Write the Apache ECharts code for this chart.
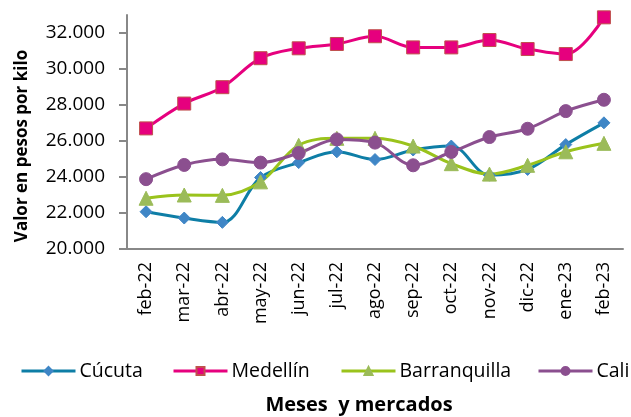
<!DOCTYPE html>
<html><head><meta charset="utf-8">
<script src="https://cdn.jsdelivr.net/npm/echarts@6/dist/echarts.min.js"></script>
<style>html,body{margin:0;padding:0;background:#fff}#c{width:631px;height:417px}</style>
</head><body><div id="c"></div>
<script>
const categories = ['feb-22','mar-22','abr-22','may-22','jun-22','jul-22','ago-22','sep-22','oct-22','nov-22','dic-22','ene-23','feb-23'];
const cucuta = [22070,21720,21480,23970,24800,25400,24970,25500,25720,24100,24420,25800,27010];
const medellin = [26700,28080,28990,30600,31150,31390,31820,31200,31200,31610,31110,30830,32870];
const barranquilla = [22820,23000,22980,23730,25760,26150,26150,25720,24740,24160,24650,25400,25870];
const cali = [23880,24670,24980,24800,25330,26090,25910,24650,25390,26220,26680,27660,28290];
const yTicks = {min:20000, max:33000, interval:2000};
const seriesNames = ['Cúcuta','Medellín','Barranquilla','Cali'];

const FONT = 'Open Sans';
const fmt = v => String(v).replace(/\B(?=(\d{3})+(?!\d))/g, '.');
const chart = echarts.init(document.getElementById('c'), null, {renderer:'canvas'});

function mk(name, data, lineColor, sym, symColor, borderColor, size) {
  return {
    name, type:'line', data, smooth:0.35, symbol:sym, symbolSize:size,
    lineStyle:{color:lineColor, width:3},
    itemStyle:{color:symColor, borderColor:borderColor, borderWidth:1},
    emphasis:{disabled:true}, clip:false, z: 2
  };
}
const legendLefts = [20, 172, 340, 537];
const legends = seriesNames.map((n, i) => ({
  left: legendLefts[i], top: 361, padding: 0, itemWidth: 54, itemHeight: 10,
  lineStyle: {width: 3}, selectedMode: false,
  textStyle: {fontFamily: FONT, fontSize: 19.5, color: '#000', padding: [0, 0, 0, -1]},
  data: [n]
}));

chart.setOption({
  animation:false,
  textStyle:{fontFamily:FONT},
  grid:{left:127, right:8, top:15, bottom:168, containLabel:false},
  legend: legends,
  xAxis:{
    type:'category', data:categories, boundaryGap:true,
    axisLine:{lineStyle:{color:'#888', width:2}},
    axisTick:{show:false},
    axisLabel:{rotate:90, margin:13, fontFamily:FONT, fontSize:18, color:'#000'}
  },
  yAxis:{
    type:'value', min:yTicks.min, max:yTicks.max, interval:yTicks.interval,
    splitLine:{show:false},
    axisLine:{show:true, lineStyle:{color:'#888', width:2}},
    axisTick:{show:true, length:8, lineStyle:{color:'#888', width:2}},
    axisLabel:{margin:22, fontFamily:FONT, fontSize:19, color:'#000', formatter:fmt, showMaxLabel:false}
  },
  graphic:[
    {type:'text', x:22, y:146, rotation:Math.PI/2,
     style:{text:'Valor en pesos por kilo', font:'bold 17px "Open Sans"', fill:'#000', align:'center', verticalAlign:'middle'}},
    {type:'text', x:359, y:405,
     style:{text:'Meses  y mercados', font:'bold 20px "Open Sans"', fill:'#000', align:'center', verticalAlign:'middle'}}
  ],
  series:[
    mk('Cúcuta', cucuta, '#0e7ea6', 'diamond', '#3f86c6', '#3f86c6', 12),
    mk('Medellín', medellin, '#e6007e', 'rect', '#e6007e', '#c0504d', 13),
    mk('Barranquilla', barranquilla, '#9ac31c', 'triangle', '#9bbb59', '#9bbb59', 14),
    mk('Cali', cali, '#8b4f8f', 'circle', '#8b4f8f', '#8b4f8f', 13)
  ]
});
</script></body></html>
